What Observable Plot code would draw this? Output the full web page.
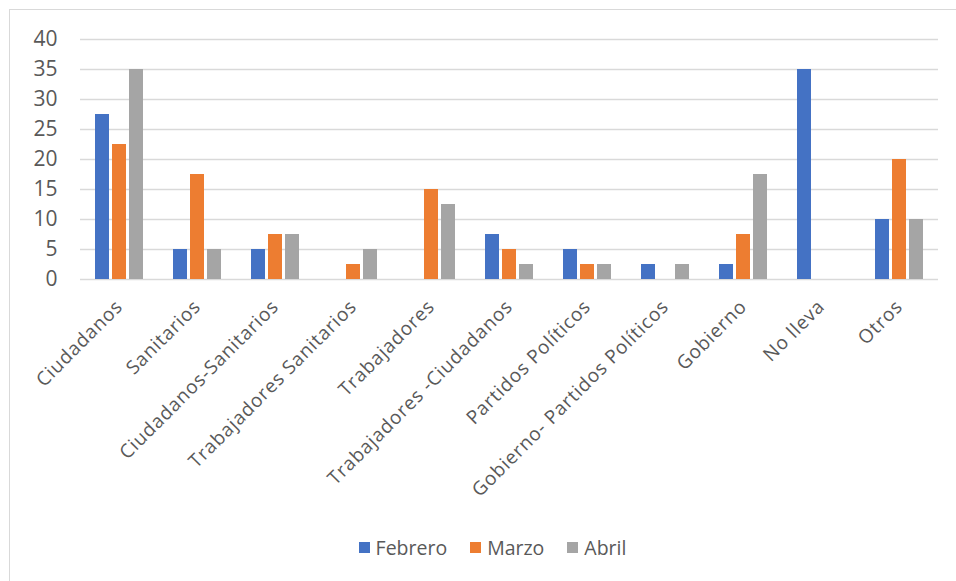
<!DOCTYPE html>
<html>
<head>
<meta charset="utf-8">
<script src="https://cdn.jsdelivr.net/npm/d3@7"></script>
<script src="https://cdn.jsdelivr.net/npm/@observablehq/plot@0.6"></script>
<style>
  html, body { margin: 0; padding: 0; background: #fff; width: 956px; height: 581px; overflow: hidden; }
  #frame { position: absolute; left: 9px; top: 9px; width: 980px; height: 600px; border: 1.5px solid #d9d9d9; box-sizing: border-box; }
  #chart { position: absolute; left: 0; top: 0; }
  #legend { position: absolute; top: 534px; left: 0; width: 985px; display: flex; justify-content: center; gap: 23px;
            font-family: "Open Sans", sans-serif; font-size: 19.5px; color: #595959; }
  .item { display: flex; align-items: center; gap: 6px; }
  .sw { width: 11px; height: 11px; display: inline-block; }
  .fxaxis text { letter-spacing: 0.8px; }
</style>
</head>
<body>
<div id="frame"></div>
<div id="chart"></div>
<div id="legend"></div>
<script>
const categories = ["Ciudadanos", "Sanitarios", "Ciudadanos-Sanitarios", "Trabajadores Sanitarios", "Trabajadores",
  "Trabajadores -Ciudadanos", "Partidos Políticos", "Gobierno- Partidos Políticos", "Gobierno", "No lleva", "Otros"];
const series = ["Febrero", "Marzo", "Abril"];
const febrero = [27.5, 5, 5, 0, 0, 7.5, 5, 2.5, 2.5, 35, 10];
const marzo   = [22.5, 17.5, 7.5, 2.5, 15, 5, 2.5, 0, 7.5, 0, 20];
const abril   = [35, 5, 7.5, 5, 12.5, 2.5, 2.5, 2.5, 17.5, 0, 10];
const yTicks = [0, 5, 10, 15, 20, 25, 30, 35, 40];
const colors = ["#4472C4", "#ED7D31", "#A5A5A5"];

const valuesBySeries = [febrero, marzo, abril];
const data = [];
categories.forEach((c, i) => {
  series.forEach((s, j) => {
    const v = valuesBySeries[j][i];
    if (v > 0) data.push({cat: c, series: s, value: v});
  });
});

const chart = Plot.plot({
  width: 956,
  height: 525,
  marginLeft: 77,
  marginRight: 15,
  marginTop: 39,
  marginBottom: 246,
  style: {fontFamily: "'Open Sans', sans-serif", color: "#595959", background: "transparent"},
  fx: {domain: categories, padding: 0, label: null},
  x: {domain: series, paddingInner: 0.16, paddingOuter: 0.86, axis: null},
  y: {domain: [0, 40], label: null},
  color: {domain: series, range: colors},
  marks: [
    Plot.ruleY(yTicks, {stroke: "#d9d9d9", strokeWidth: 1.5}),
    Plot.barY(data, {fx: "cat", x: "series", y: "value", fill: "series"}),
    Plot.axisY({ticks: yTicks, tickSize: 0, tickPadding: 23, fontSize: 21, label: null}),
    Plot.axisFx({anchor: "bottom", tickRotate: -45, tickSize: 0, tickPadding: 24, fontSize: 19, label: null, className: "fxaxis"})
  ]
});
document.getElementById("chart").appendChild(chart);

const legend = document.getElementById("legend");
series.forEach((s, j) => {
  const item = document.createElement("div");
  item.className = "item";
  const sw = document.createElement("span");
  sw.className = "sw";
  sw.style.background = colors[j];
  const t = document.createElement("span");
  t.textContent = s;
  item.appendChild(sw);
  item.appendChild(t);
  legend.appendChild(item);
});
</script>
</body>
</html>
